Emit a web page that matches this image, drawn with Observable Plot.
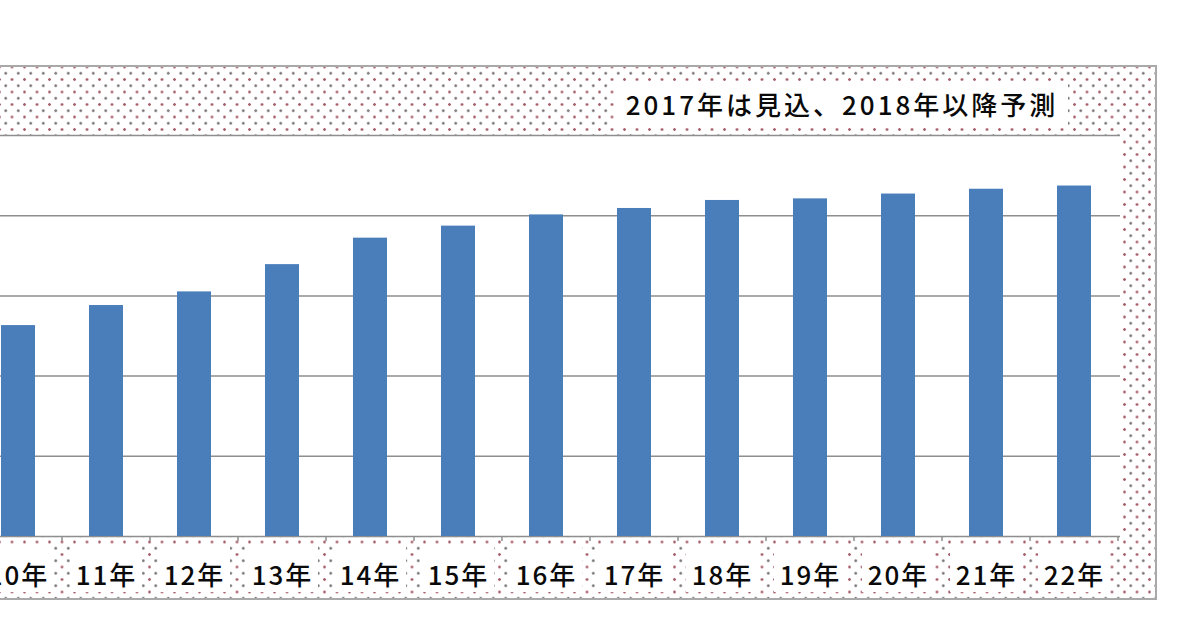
<!DOCTYPE html>
<html><head><meta charset="utf-8">
<script src="https://cdn.jsdelivr.net/npm/d3@7"></script>
<script src="https://cdn.jsdelivr.net/npm/@observablehq/plot@0.6"></script>
<style>
html,body{margin:0;padding:0;background:#fff;width:1200px;height:628px;overflow:hidden;font-family:"Noto Sans CJK JP",sans-serif;}
#frame{position:absolute;left:-40px;top:65px;width:1197px;height:535px;border:2px solid #a9a9a9;box-sizing:border-box;
background-color:#fff;
background-image:radial-gradient(circle,#7a7477 0 1px,transparent 1.6px),radial-gradient(circle,#a8606b 0 1px,transparent 1.6px);
background-size:12.5px 12.5px;background-position:0 0,6.25px 6.25px;}
#note{position:absolute;left:616px;top:81px;width:452px;height:45px;background:#fff;font-size:26px;line-height:45px;letter-spacing:3px;text-align:center;color:#0a0a0a;white-space:nowrap;font-weight:500;}
#chart{position:absolute;left:-40px;top:125px;}
</style></head>
<body>
<div id="frame"></div>
<div id="chart"></div>
<div id="note"></div>
<script>
const years = ["10年","11年","12年","13年","14年","15年","16年","17年","18年","19年","20年","21年","22年"];
const values = [2.63, 2.88, 3.05, 3.39, 3.72, 3.87, 4.01, 4.09, 4.19, 4.21, 4.27, 4.33, 4.37];
const yTicks = [0, 1, 2, 3, 4, 5];
const note = "2017年は見込、2018年以降予測";

const data = years.map((year, i) => ({year, value: values[i]}));
document.getElementById("note").textContent = note;

const chart = Plot.plot({
  width: 1240, height: 481,
  marginTop: 10, marginBottom: 70, marginLeft: 12.6, marginRight: 80,
  style: {background: "transparent", maxWidth: "none", overflow: "visible", fontFamily: "'Noto Sans CJK JP', sans-serif"},
  x: {domain: years, paddingInner: 0.61, paddingOuter: 0.305, label: null},
  y: {domain: [0, 5], axis: null},
  marks: [
    Plot.frame({fill: "white", stroke: null}),
    Plot.ruleY(yTicks, {stroke: "#8e8e8e", strokeWidth: 1.5}),
    Plot.barY(data, {x: "year", y: "value", fill: "#4a7ebb"}),
    Plot.axisX({tickSize: 0, tickPadding: 30, fontSize: 26, fill: "#0a0a0a"})
  ]
});
document.getElementById("chart").appendChild(chart);

// decorations: white label boxes and boundary ticks
const xs = chart.scale("x");
const svg = d3.select(chart);
const gap = xs.step - xs.bandwidth;
const boxes = svg.insert("g", ":first-child");
years.forEach(c => {
  const cx = xs.apply(c) + xs.bandwidth / 2;
  boxes.append("rect").attr("x", cx - (xs.step - 16) / 2).attr("y", 421)
    .attr("width", xs.step - 16).attr("height", 46).attr("fill", "white");
});
const ticks = svg.append("g").attr("stroke", "#8e8e8e").attr("stroke-width", 1.5);
years.forEach(c => {
  const x = xs.apply(c) - gap / 2;
  ticks.append("line").attr("x1", x).attr("x2", x).attr("y1", 411).attr("y2", 416);
});
const xr = xs.apply(years[years.length - 1]) + xs.bandwidth + gap / 2;
ticks.append("line").attr("x1", xr).attr("x2", xr).attr("y1", 411).attr("y2", 416);
svg.selectAll('[aria-label="x-axis tick label"] text').attr("letter-spacing", 2).attr("font-weight", 500);
</script>
</body></html>
